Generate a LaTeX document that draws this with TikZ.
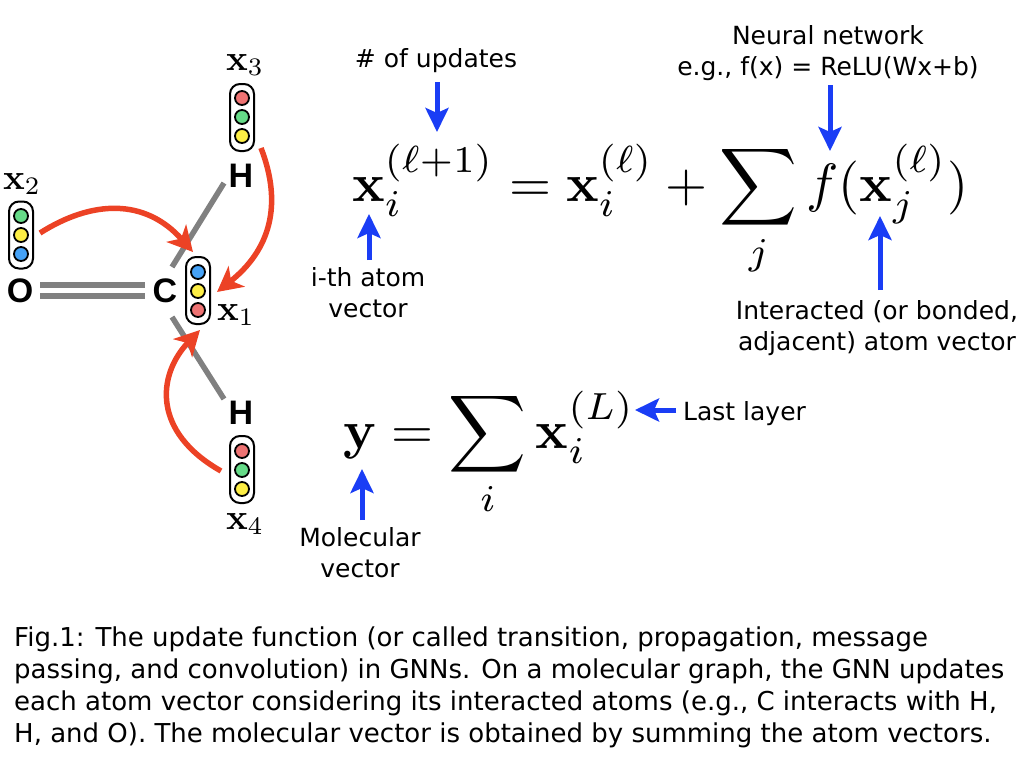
\documentclass[tikz,border=0pt]{standalone}
\usepackage{graphicx}
\usepackage[no-math]{fontspec}
\setmainfont{DejaVu Sans}
\newfontfamily\atomfont{Liberation Sans}[Scale=1]
\usetikzlibrary{arrows.meta}
\definecolor{arrowred}{HTML}{EC4225}
\definecolor{arrowblue}{HTML}{1A3DF5}
\definecolor{bondgray}{HTML}{808080}
\definecolor{dotred}{HTML}{EE7373}
\definecolor{dotgreen}{HTML}{66DB88}
\definecolor{dotyellow}{HTML}{FDEE45}
\definecolor{dotblue}{HTML}{45A2F7}
\tikzset{
  x=1pt,y=-1pt,
  vecbox/.style={draw=black,line width=2pt,rounded corners=10pt,minimum width=24pt,minimum height=67pt,inner sep=0pt,fill=white},
  dot/.style={circle,draw=black,line width=1.8pt,minimum size=14pt,inner sep=0pt},
  atom/.style={inner sep=0pt,font=\atomfont\bfseries\fontsize{34}{34}\selectfont},
  bond/.style={draw=bondgray,line width=5.5pt},
  redarrow/.style={draw=arrowred,line width=5.5pt,-{Stealth[length=25pt,width=26pt,inset=7pt]}},
  bluearrow/.style={draw=arrowblue,line width=5pt,-{Stealth[length=24pt,width=23pt,inset=5pt]}},
  mathnode/.style={inner sep=0pt,anchor=base west},
  veclabel/.style={inner sep=0pt},
  note/.style={inner sep=0pt,align=center,font=\fontsize{25}{31}\selectfont},
  caption/.style={inner sep=0pt,anchor=north west,align=left,font=\fontsize{26}{32}\selectfont}
}
\begin{document}
\begin{tikzpicture}
\useasboundingbox (0,0) rectangle (1024,768);
% bond end points
\coordinate (b1a) at (224,183); \coordinate (b1b) at (172,267);
\coordinate (b2a) at (172,317); \coordinate (b2b) at (224,399);
\coordinate (d1a) at (40,285); \coordinate (d1b) at (145,285);
\coordinate (d2a) at (40,296); \coordinate (d2b) at (145,296);
\draw[bond] (b1a) -- (b1b);
\draw[bond] (b2a) -- (b2b);
\draw[bond] (d1a) -- (d1b);
\draw[bond] (d2a) -- (d2b);
% atoms
\node[atom] (O) at (20,291) {O};
\node[atom] (C) at (165,291) {C};
\node[atom] (H1) at (241,176) {H};
\node[atom] (H2) at (241,413) {H};
% vectors
\node[vecbox] (v3) at (242,117.5) {};
\node[dot,fill=dotred] (v3a) at (242,98) {};
\node[dot,fill=dotgreen] (v3b) at (242,117) {};
\node[dot,fill=dotyellow] (v3c) at (242,136) {};
\node[vecbox] (v2) at (21,235) {};
\node[dot,fill=dotgreen] (v2a) at (21,216) {};
\node[dot,fill=dotyellow] (v2b) at (21,235) {};
\node[dot,fill=dotblue] (v2c) at (21,254) {};
\node[vecbox] (v1) at (198,290.5) {};
\node[dot,fill=dotblue] (v1a) at (198,272) {};
\node[dot,fill=dotyellow] (v1b) at (198,291) {};
\node[dot,fill=dotred] (v1c) at (198,310) {};
\node[vecbox] (v4) at (242,469.5) {};
\node[dot,fill=dotred] (v4a) at (242,451) {};
\node[dot,fill=dotgreen] (v4b) at (242,470) {};
\node[dot,fill=dotyellow] (v4c) at (242,489) {};
% vector labels
\node[veclabel] (l3) at (245,65) {\scalebox{3.6}{$\mathbf{x}_3$}};
\node[veclabel] (l2) at (22,184) {\scalebox{3.6}{$\mathbf{x}_2$}};
\node[veclabel] (l1) at (236,315) {\scalebox{3.6}{$\mathbf{x}_1$}};
\node[veclabel] (l4) at (245,524) {\scalebox{3.6}{$\mathbf{x}_4$}};
% red arrows
\coordinate (r2s) at (40,233); \coordinate (r2e) at (193,252);
\coordinate (r3s) at (261,148); \coordinate (r3e) at (217,292);
\coordinate (r4s) at (221,471); \coordinate (r4e) at (200,330);
\draw[redarrow] (r2s) .. controls (92,200) and (145,198) .. (r2e);
\draw[redarrow] (r3s) .. controls (283,205) and (270,250) .. (r3e);
\draw[redarrow] (r4s) .. controls (152,432) and (157,375) .. (r4e);
% equations
\node[mathnode] (eq1) at (352,201) {\scalebox{5.4}{$\displaystyle \mathbf{x}_i^{(\ell+1)} = \mathbf{x}_i^{(\ell)} + \sum_j f(\mathbf{x}_j^{(\ell)})$}};
\node[mathnode] (eq2) at (343,448) {\scalebox{5.4}{$\displaystyle \mathbf{y} = \sum_i \mathbf{x}_i^{(L)}$}};
% notes
\node[note] (n1) at (436,61) {\# of updates};
\node[note] (n2) at (828,53) {Neural network\\e.g., f(x) = ReLU(Wx+b)};
\node[note] (n3) at (368,293) {i-th atom\\vector};
\node[note] (n4) at (877,328) {Interacted (or bonded,\\adjacent) atom vector};
\node[note] (n5) at (360,553) {Molecular\\vector};
\node[note,anchor=west] (n6) at (683,414) {Last layer};
% blue arrows
\coordinate (a1s) at (437,82); \coordinate (a1e) at (437,132);
\coordinate (a2s) at (369,260); \coordinate (a2e) at (369,214);
\coordinate (a3s) at (830,85); \coordinate (a3e) at (830,151);
\coordinate (a4s) at (880,290); \coordinate (a4e) at (880,216);
\coordinate (a5s) at (362,520); \coordinate (a5e) at (362,469);
\coordinate (a6s) at (676,410); \coordinate (a6e) at (635,410);
\draw[bluearrow] (a1s) -- (a1e);
\draw[bluearrow] (a2s) -- (a2e);
\draw[bluearrow] (a3s) -- (a3e);
\draw[bluearrow] (a4s) -- (a4e);
\draw[bluearrow] (a5s) -- (a5e);
\draw[bluearrow] (a6s) -- (a6e);
% caption
\node[caption] (cap) at (14,627) {Fig.1: The update function (or called transition, propagation, message\\passing, and convolution) in GNNs. On a molecular graph, the GNN updates\\each atom vector considering its interacted atoms (e.g., C interacts with H,\\H, and O). The molecular vector is obtained by summing the atom vectors.};
\end{tikzpicture}
\end{document}
